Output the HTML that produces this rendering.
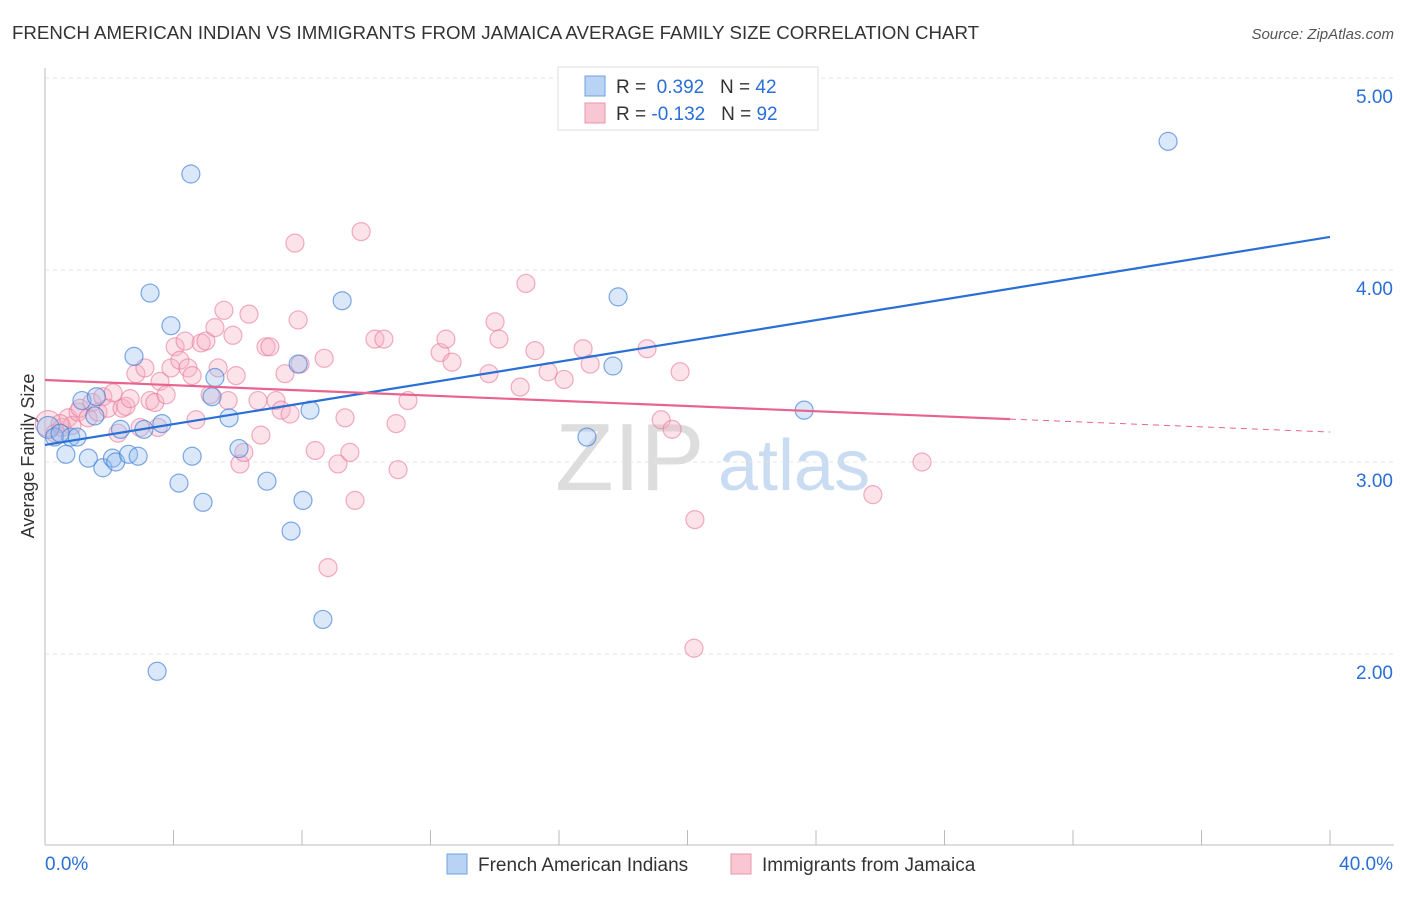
<!DOCTYPE html>
<html><head><meta charset="utf-8"><style>
body{margin:0;background:#fff;font-family:"Liberation Sans",sans-serif;}
svg text{font-family:"Liberation Sans",sans-serif;}
</style></head><body>
<svg id="chart" width="1406" height="892">
<text x="12" y="39" font-size="18.7" fill="#333">FRENCH AMERICAN INDIAN VS IMMIGRANTS FROM JAMAICA AVERAGE FAMILY SIZE CORRELATION CHART</text>
<text x="1394" y="39" font-size="15" fill="#555" font-style="italic" text-anchor="end">Source: ZipAtlas.com</text>
<text x="34" y="456" font-size="18" fill="#333" text-anchor="middle" transform="rotate(-90 34 456)">Average Family Size</text>
<text x="555" y="490" font-size="96" fill="#ddd" font-family="Liberation Serif">ZIP</text>
<text x="718" y="490" font-size="72" fill="#c9dcf2">atlas</text>
<g id="grid"></g><g id="pts"></g><g id="lines"></g>
<g>
<rect x="558" y="67" width="260" height="63" fill="#fff" stroke="#ddd"/>
<rect x="585" y="76" width="20" height="20" fill="#b8d3f4" stroke="#6fa0e0"/>
<text x="616" y="93" font-size="19" fill="#333">R = <tspan fill="#2a6fd6">&#160;0.392</tspan>&#160;&#160;&#160;N = <tspan fill="#2a6fd6">42</tspan></text>
<rect x="585" y="103" width="20" height="20" fill="#f9c6d4" stroke="#eb94ae"/>
<text x="616" y="120" font-size="19" fill="#333">R = <tspan fill="#2a6fd6">-0.132</tspan>&#160;&#160;&#160;N = <tspan fill="#2a6fd6">92</tspan></text>
</g>
<g>
<rect x="447" y="854" width="20" height="20" fill="#b8d3f4" stroke="#6fa0e0"/>
<text x="478" y="871" font-size="19" fill="#333">French American Indians</text>
<rect x="731" y="854" width="20" height="20" fill="#f9c6d4" stroke="#eb94ae"/>
<text x="762" y="871" font-size="19" fill="#333">Immigrants from Jamaica</text>
</g>
<text x="45" y="870" font-size="19" fill="#2a6fd6">0.0%</text>
<text x="1393" y="870" font-size="19" fill="#2a6fd6" text-anchor="end">40.0%</text>
</svg>
<script>
const yTicks=[5,4,3,2];
const yTickLabels=["5.00","4.00","3.00","2.00"];
const blueX=[0.1,0.3,0.65,0.8,1.0,1.15,1.35,1.55,1.6,1.8,2.1,2.2,2.35,2.6,2.9,2.77,3.27,3.08,3.64,3.92,4.17,4.54,4.58,4.92,5.2,5.29,5.73,6.04,6.91,7.66,7.88,8.03,8.25,8.65,9.25,3.49,16.87,17.68,17.84,23.63,34.96,0.47];
const blueY=[3.18,3.13,3.04,3.13,3.13,3.32,3.02,3.24,3.34,2.97,3.02,3.0,3.17,3.04,3.03,3.55,3.88,3.17,3.2,3.71,2.89,4.50,3.03,2.79,3.34,3.44,3.23,3.07,2.9,2.64,3.51,2.8,3.27,2.18,3.84,1.91,3.13,3.5,3.86,3.27,4.67,3.15];
const pinkX=[0.1,0.31,0.53,0.72,0.84,1.03,1.09,1.34,1.46,1.65,1.8,1.96,2.12,2.27,2.4,2.52,2.65,2.83,2.96,3.11,3.27,3.42,3.52,3.58,3.77,3.92,4.05,4.2,4.36,4.45,4.58,4.7,4.86,5.01,5.14,5.29,5.39,5.57,5.7,5.85,5.95,6.07,6.19,6.35,6.63,6.72,6.88,7.0,7.19,7.35,7.47,7.63,7.78,7.88,7.94,8.41,8.69,8.81,9.12,9.34,9.49,9.65,9.84,10.27,10.55,10.93,10.99,11.3,12.3,12.48,12.67,13.82,14.01,14.13,14.79,14.97,15.25,15.66,16.16,16.75,16.97,18.74,19.18,19.52,19.77,20.23,20.2,25.77,27.3,0.47];
const pinkY=[3.2,3.15,3.18,3.23,3.19,3.26,3.28,3.23,3.31,3.26,3.34,3.28,3.36,3.15,3.28,3.29,3.33,3.46,3.18,3.49,3.32,3.31,3.18,3.42,3.35,3.49,3.6,3.53,3.63,3.49,3.45,3.22,3.62,3.63,3.35,3.7,3.49,3.79,3.32,3.66,3.45,2.99,3.05,3.77,3.32,3.14,3.6,3.6,3.32,3.27,3.46,3.25,4.14,3.74,3.51,3.06,3.54,2.45,2.99,3.23,3.05,2.8,4.2,3.64,3.64,3.2,2.96,3.32,3.57,3.64,3.52,3.46,3.73,3.64,3.39,3.93,3.58,3.47,3.43,3.59,3.51,3.59,3.22,3.17,3.47,2.7,2.03,2.83,3.0,3.2];
const blueTrend=[3.089,4.172];
const pinkTrend=[3.427,3.156];
const pinkSolidEnd=30.04;
const NS='http://www.w3.org/2000/svg';
const sx=v=>45+v*32.125, sy=v=>78+(5-v)*192;
function mk(t,a,p){const e=document.createElementNS(NS,t);for(const k in a)e.setAttribute(k,a[k]);p.appendChild(e);return e;}
const g=document.getElementById('grid');
yTicks.forEach((t,i)=>{
 const l=mk('line',{x1:45,x2:1394,y1:sy(t),y2:sy(t),stroke:'#e4e4e4','stroke-dasharray':'4 4'},g);
 
 
 const tx=mk('text',{x:1393,y:sy(t)+25,'font-size':19,fill:'#2a6fd6','text-anchor':'end'},g);
 tx.textContent=yTickLabels[i];
 
 
});
const ax=mk('line',{x1:45,x2:45,y1:68,y2:845,stroke:'#bbb'},g);


const bx=mk('line',{x1:45,x2:1394,y1:845,y2:845,stroke:'#bbb'},g);


for(let i=1;i<=10;i++){const t=mk('line',{x1:sx(i*4),x2:sx(i*4),y1:830,y2:845,stroke:'#bbb'},g);
 
 }
const P=document.getElementById('pts');
pinkX.forEach((x,i)=>{const c=mk('circle',{cx:sx(x),cy:sy(pinkY[i]),r:i==0?13:9,fill:'rgba(247,175,196,0.35)',stroke:'rgba(232,120,155,0.6)','stroke-width':1.2},P);
 
 });
blueX.forEach((x,i)=>{const c=mk('circle',{cx:sx(x),cy:sy(blueY[i]),r:i==0?11:9,fill:'rgba(150,190,238,0.35)',stroke:'rgba(60,125,215,0.65)','stroke-width':1.2},P);
 
 });
const L=document.getElementById('lines');
const bl=mk('line',{x1:sx(0),y1:sy(blueTrend[0]),x2:sx(40),y2:sy(blueTrend[1]),stroke:'#2a6fd6','stroke-width':2.2},L);


const pe=pinkTrend[0]+(pinkTrend[1]-pinkTrend[0])*pinkSolidEnd/40;
const pl=mk('line',{x1:sx(0),y1:sy(pinkTrend[0]),x2:sx(pinkSolidEnd),y2:sy(pe),stroke:'#e8648f','stroke-width':2.2},L);


const pd=mk('line',{x1:sx(pinkSolidEnd),y1:sy(pe),x2:sx(40),y2:sy(pinkTrend[1]),stroke:'#e8648f','stroke-width':1,'stroke-dasharray':'6 5'},L);


</script>
</body></html>
